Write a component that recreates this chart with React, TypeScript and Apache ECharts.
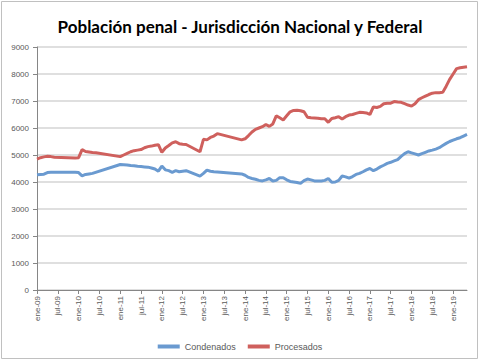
import React, { useEffect, useRef } from "react";
import * as echarts from "echarts";

const monthNames = ["ene", "feb", "mar", "abr", "may", "jun", "jul", "ago", "sep", "oct", "nov", "dic"];
const startYear = 2009;
const monthCount = 125; // ene-09 .. may-19

const categories: string[] = [];
for (let i = 0; i < monthCount; i++) {
  const y = startYear + Math.floor(i / 12);
  categories.push(`${monthNames[i % 12]}-${String(y % 100).padStart(2, "0")}`);
}

const yTicks = [0, 1000, 2000, 3000, 4000, 5000, 6000, 7000, 8000, 9000];

const condenados: (number | null)[] = [
  // 2009
  4270, 4280, 4290, 4350, 4360, null, null, null, null, null, null, 4360,
  // 2010
  4350, 4230, 4280, 4300, 4320, null, null, null, null, null, null, null,
  // 2011
  4650, 4640, 4630, 4610, 4600, 4580, 4570, 4560, 4550, 4520, 4480, 4400,
  // 2012
  4590, 4450, 4420, 4360, 4420, 4380, 4400, 4420, null, null, null, 4220,
  // 2013
  4320, 4440, 4400, 4380, 4370, null, null, null, null, null, null, 4300,
  // 2014
  4250, 4170, 4130, 4100, 4060, 4040, 4080, 4130, 4040, 4060, 4160, 4160,
  // 2015
  4080, 4020, 4000, 3980, 3950, 4050, 4110, 4080, 4040, 4040, 4040, 4060,
  // 2016
  4130, 3990, 4000, 4060, 4220, 4190, 4140, 4200, 4280, 4320, 4380, 4450,
  // 2017
  4500, 4420, 4480, 4560, 4620, 4690, 4730, 4780, 4830, 4950, 5050, 5120,
  // 2018
  5080, 5040, 5000, 5050, 5100, 5150, 5180, 5220, 5270, 5350, 5430, 5500,
  // 2019
  5550, 5600, 5640, 5700, 5760,
];

const procesados: (number | null)[] = [
  // 2009
  4850, 4900, 4930, 4950, 4940, 4920, null, null, null, null, null, 4890,
  // 2010
  4900, 5200, 5130, 5110, 5090, 5080, null, null, null, null, null, null,
  // 2011
  4940, 5000, 5060, 5120, 5160, 5180, 5200, 5270, 5310, 5330, 5360, 5380,
  // 2012
  5100, 5260, 5350, 5450, 5490, 5420, 5400, 5390, null, null, null, 5120,
  // 2013
  5580, 5560, 5650, 5700, 5790, null, null, null, null, null, null, 5560,
  // 2014
  5600, 5720, 5850, 5950, 6000, 6050, 6130, 6060, 6150, 6450, 6380, 6300,
  // 2015
  6450, 6600, 6650, 6660, 6640, 6600, 6400, 6380, 6370, 6360, 6340, 6340,
  // 2016
  6210, 6350, 6380, 6420, 6330, 6420, 6480, 6500, 6540, 6580, 6570, 6560,
  // 2017
  6500, 6780, 6760, 6800, 6900, 6920, 6920, 6980, 6960, 6950, 6900, 6850,
  // 2018
  6810, 6900, 7050, 7120, 7180, 7240, 7290, 7310, 7310, 7320, 7550, 7800,
  // 2019
  8000, 8200, 8230, 8250, 8270,
];

const seriesNames = ["Condenados", "Procesados"];
const titleText = "Población penal - Jurisdicción Nacional y Federal";

export default function App() {
  const ref = useRef<HTMLDivElement>(null);
  useEffect(() => {
    if (!ref.current) return;
    const chart = echarts.init(ref.current, undefined, { renderer: "svg" });
    const labelColor = "#595959";
    chart.setOption({
      animation: false,
      backgroundColor: "#ffffff",
      textStyle: { fontFamily: "'Liberation Sans', sans-serif" },
      graphic: [
        {
          type: "rect",
          shape: { x: 1.5, y: 1.5, width: 476, height: 357 },
          style: { fill: "none", stroke: "#c0c0c0", lineWidth: 1 },
          silent: true,
        },
      ],
      title: {
        text: titleText,
        left: "center",
        top: 13,
        textStyle: {
          fontFamily: "'Lato', sans-serif",
          fontWeight: "bold",
          fontSize: 17,
          color: "#000000",
        },
      },
      legend: {
        data: seriesNames.map((n) => ({ name: n, icon: "rect" })),
        left: "center",
        top: 337,
        itemWidth: 22,
        itemHeight: 4,
        itemGap: 12,
        textStyle: { fontSize: 9, color: labelColor, fontFamily: "'Liberation Sans', sans-serif" },
      },
      grid: { left: 37, right: 13, top: 47, bottom: 71, containLabel: false },
      xAxis: {
        type: "category",
        data: categories,
        boundaryGap: false,
        axisLine: { show: true, lineStyle: { color: "#868686", width: 1 } },
        axisTick: { show: true, interval: 5, length: 4, lineStyle: { color: "#868686" } },
        axisLabel: {
          interval: 5,
          rotate: 90,
          margin: 6,
          fontSize: 8,
          color: labelColor,
        },
        splitLine: { show: false },
      },
      yAxis: {
        type: "value",
        min: yTicks[0],
        max: yTicks[yTicks.length - 1],
        interval: 1000,
        axisLine: { show: true, lineStyle: { color: "#868686", width: 1 } },
        axisTick: { show: true, length: 4, lineStyle: { color: "#868686" } },
        axisLabel: {
          fontSize: 8,
          color: labelColor,
          margin: 8,
          formatter: (v: number) => String(v),
        },
        splitLine: { show: true, lineStyle: { color: "#d4d4d4", width: 1.5 } },
      },
      series: [
        {
          name: seriesNames[0],
          type: "line",
          data: condenados,
          connectNulls: true,
          showSymbol: false,
          symbol: "none",
          lineStyle: { color: "#6a9ad0", width: 3 },
          itemStyle: { color: "#6a9ad0" },
        },
        {
          name: seriesNames[1],
          type: "line",
          data: procesados,
          connectNulls: true,
          showSymbol: false,
          symbol: "none",
          lineStyle: { color: "#cf605d", width: 3 },
          itemStyle: { color: "#cf605d" },
        },
      ],
    });
    return () => chart.dispose();
  }, []);
  return (
    <div
      ref={ref}
      style={{ position: "fixed", left: 0, top: 0, width: 480, height: 361 }}
    />
  );
}
